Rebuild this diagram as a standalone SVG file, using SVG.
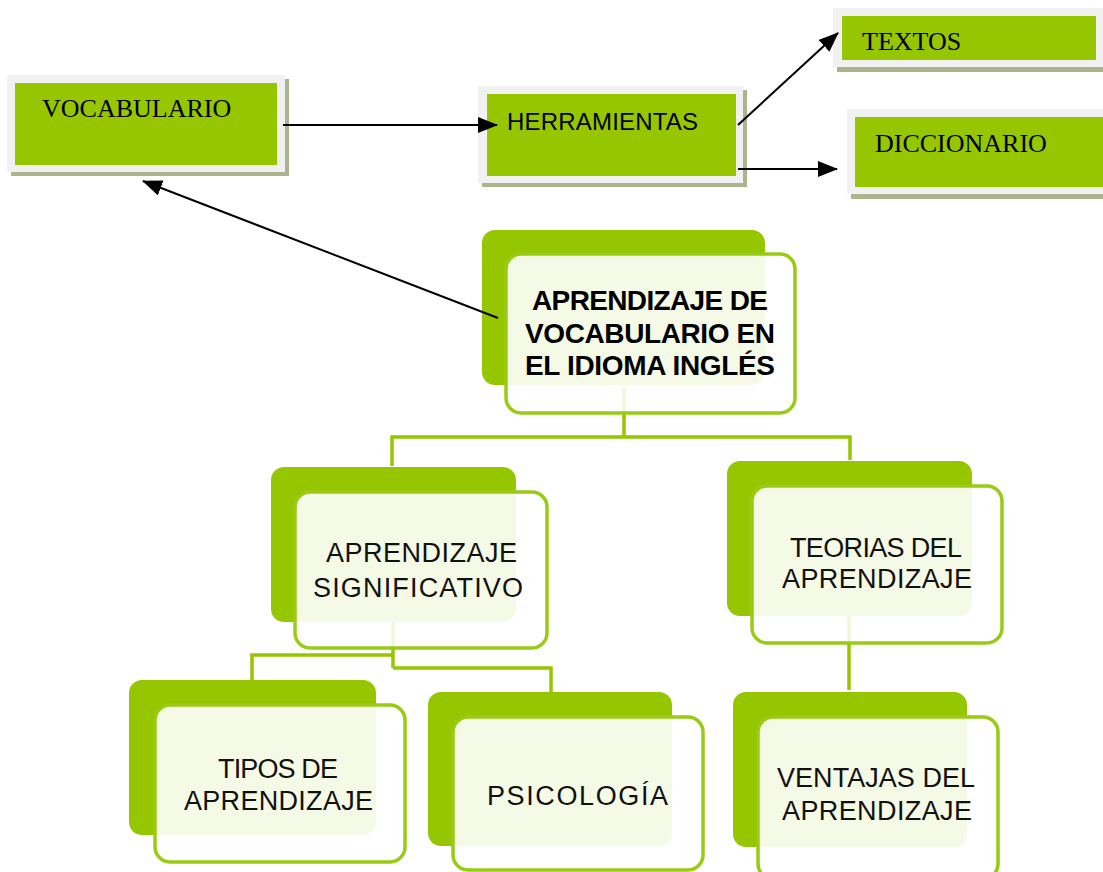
<svg xmlns="http://www.w3.org/2000/svg" width="1103" height="872" viewBox="0 0 1103 872">
<style>
.shadow{fill:#abb48b}
.frame{fill:#f1f1f1}
.green{fill:#95c600}
.back{fill:#95c600}
.front{fill:#ffffff;fill-opacity:0.9;stroke:#9acb14;stroke-width:3.5}
.serif{font-family:"Liberation Serif","Times New Roman",serif;font-size:26px;fill:#000}
.sans{font-family:"Liberation Sans",Arial,sans-serif;font-size:24px;fill:#000}
.light{font-family:"Liberation Sans",Arial,sans-serif;font-size:27px;fill:#111}
.bold{font-family:"Liberation Sans",Arial,sans-serif;font-size:28px;font-weight:bold;fill:#000}
.arrow{stroke:#000;stroke-width:2;fill:none;marker-end:url(#ah)}
.tree{stroke:#95c600;stroke-width:3.5;fill:none}
.faint{stroke:#95c600;stroke-width:3.5;fill:none;stroke-opacity:0.15}
</style>
<defs>
<marker id="ah" markerUnits="userSpaceOnUse" markerWidth="20" markerHeight="16" refX="19" refY="8" orient="auto">
<path d="M0,0 L20,8 L0,16 Z" fill="#000"/>
</marker>
</defs>
<rect width="1103" height="872" fill="#fff"/>

<g id="vocabulario">
<rect class="shadow" x="11" y="79" width="278" height="97"/>
<rect class="frame" x="7" y="75" width="278" height="97"/>
<rect class="green" x="15" y="83" width="262" height="82"/>
<text class="serif" x="42" y="117">VOCABULARIO</text>
</g>

<g id="herramientas">
<rect class="shadow" x="482" y="90" width="265" height="97"/>
<rect class="frame" x="478" y="86" width="265" height="97"/>
<rect class="green" x="487" y="94" width="249" height="82"/>
<text class="sans" x="507" y="130" textLength="191" lengthAdjust="spacing">HERRAMIENTAS</text>
</g>

<g id="textos">
<rect class="shadow" x="837" y="13" width="270" height="59"/>
<rect class="frame" x="833" y="8" width="270" height="59"/>
<rect class="green" x="842" y="16" width="254" height="44"/>
<text class="serif" x="862" y="50">TEXTOS</text>
</g>

<g id="diccionario">
<rect class="shadow" x="851" y="114" width="270" height="85"/>
<rect class="frame" x="847" y="109" width="270" height="85"/>
<rect class="green" x="855" y="117" width="260" height="70"/>
<text class="serif" x="875" y="152">DICCIONARIO</text>
</g>

<g id="central">
<rect class="back" x="482" y="230" width="283" height="155" rx="13"/>
<rect class="front" x="506" y="254" width="289" height="159" rx="15"/>
<text class="bold" x="532" y="310" textLength="236" lengthAdjust="spacing">APRENDIZAJE DE</text>
<text class="bold" x="525" y="343" textLength="250" lengthAdjust="spacing">VOCABULARIO EN</text>
<text class="bold" x="525" y="375" textLength="250" lengthAdjust="spacing">EL IDIOMA INGLÉS</text>
</g>

<g id="significativo">
<rect class="back" x="271" y="467" width="245" height="155" rx="13"/>
<rect class="front" x="295" y="492" width="252" height="156" rx="15"/>
<text class="light" x="326" y="562" textLength="191" lengthAdjust="spacing">APRENDIZAJE</text>
<text class="light" x="313" y="597" textLength="210" lengthAdjust="spacing">SIGNIFICATIVO</text>
</g>

<g id="teorias">
<rect class="back" x="727" y="461" width="245" height="155" rx="13"/>
<rect class="front" x="752" y="486" width="250" height="157" rx="15"/>
<text class="light" x="790" y="557" textLength="172" lengthAdjust="spacing">TEORIAS DEL</text>
<text class="light" x="782" y="588" textLength="190" lengthAdjust="spacing">APRENDIZAJE</text>
</g>

<g id="tipos">
<rect class="back" x="129" y="680" width="247" height="155" rx="13"/>
<rect class="front" x="155" y="705" width="250" height="157" rx="15"/>
<text class="light" x="218" y="778" textLength="120" lengthAdjust="spacing">TIPOS DE</text>
<text class="light" x="184" y="810" textLength="189" lengthAdjust="spacing">APRENDIZAJE</text>
</g>

<g id="psicologia">
<rect class="back" x="428" y="692" width="244" height="154" rx="13"/>
<rect class="front" x="453" y="717" width="250" height="153" rx="15"/>
<text class="light" x="487" y="805" textLength="181" lengthAdjust="spacing">PSICOLOGÍA</text>
</g>

<g id="ventajas">
<rect class="back" x="733" y="692" width="234" height="155" rx="13"/>
<rect class="front" x="758" y="717" width="240" height="162" rx="15"/>
<text class="light" x="777" y="787" textLength="198" lengthAdjust="spacing">VENTAJAS DEL</text>
<text class="light" x="782" y="820" textLength="190" lengthAdjust="spacing">APRENDIZAJE</text>
</g>

<g id="connectors">
<line class="arrow" x1="283" y1="125" x2="497" y2="125"/>
<line class="arrow" x1="738" y1="125" x2="838" y2="33"/>
<line class="arrow" x1="738" y1="169" x2="837" y2="169"/>
<line class="arrow" x1="498" y1="318" x2="143" y2="181"/>
<line class="faint" x1="624" y1="388" x2="624" y2="412"/>
<polyline class="tree" points="624,414 624,437"/>
<polyline class="tree" points="392,466 392,437 850,437 850,460"/>
<line class="faint" x1="393" y1="622" x2="393" y2="647"/>
<polyline class="tree" points="393,649 393,668"/>
<polyline class="tree" points="252,680 252,655 393,655"/>
<polyline class="tree" points="393,668 551,668 551,692"/>
<line class="faint" x1="849" y1="616" x2="849" y2="642"/>
<polyline class="tree" points="849,644 849,690"/>
</g>
</svg>
